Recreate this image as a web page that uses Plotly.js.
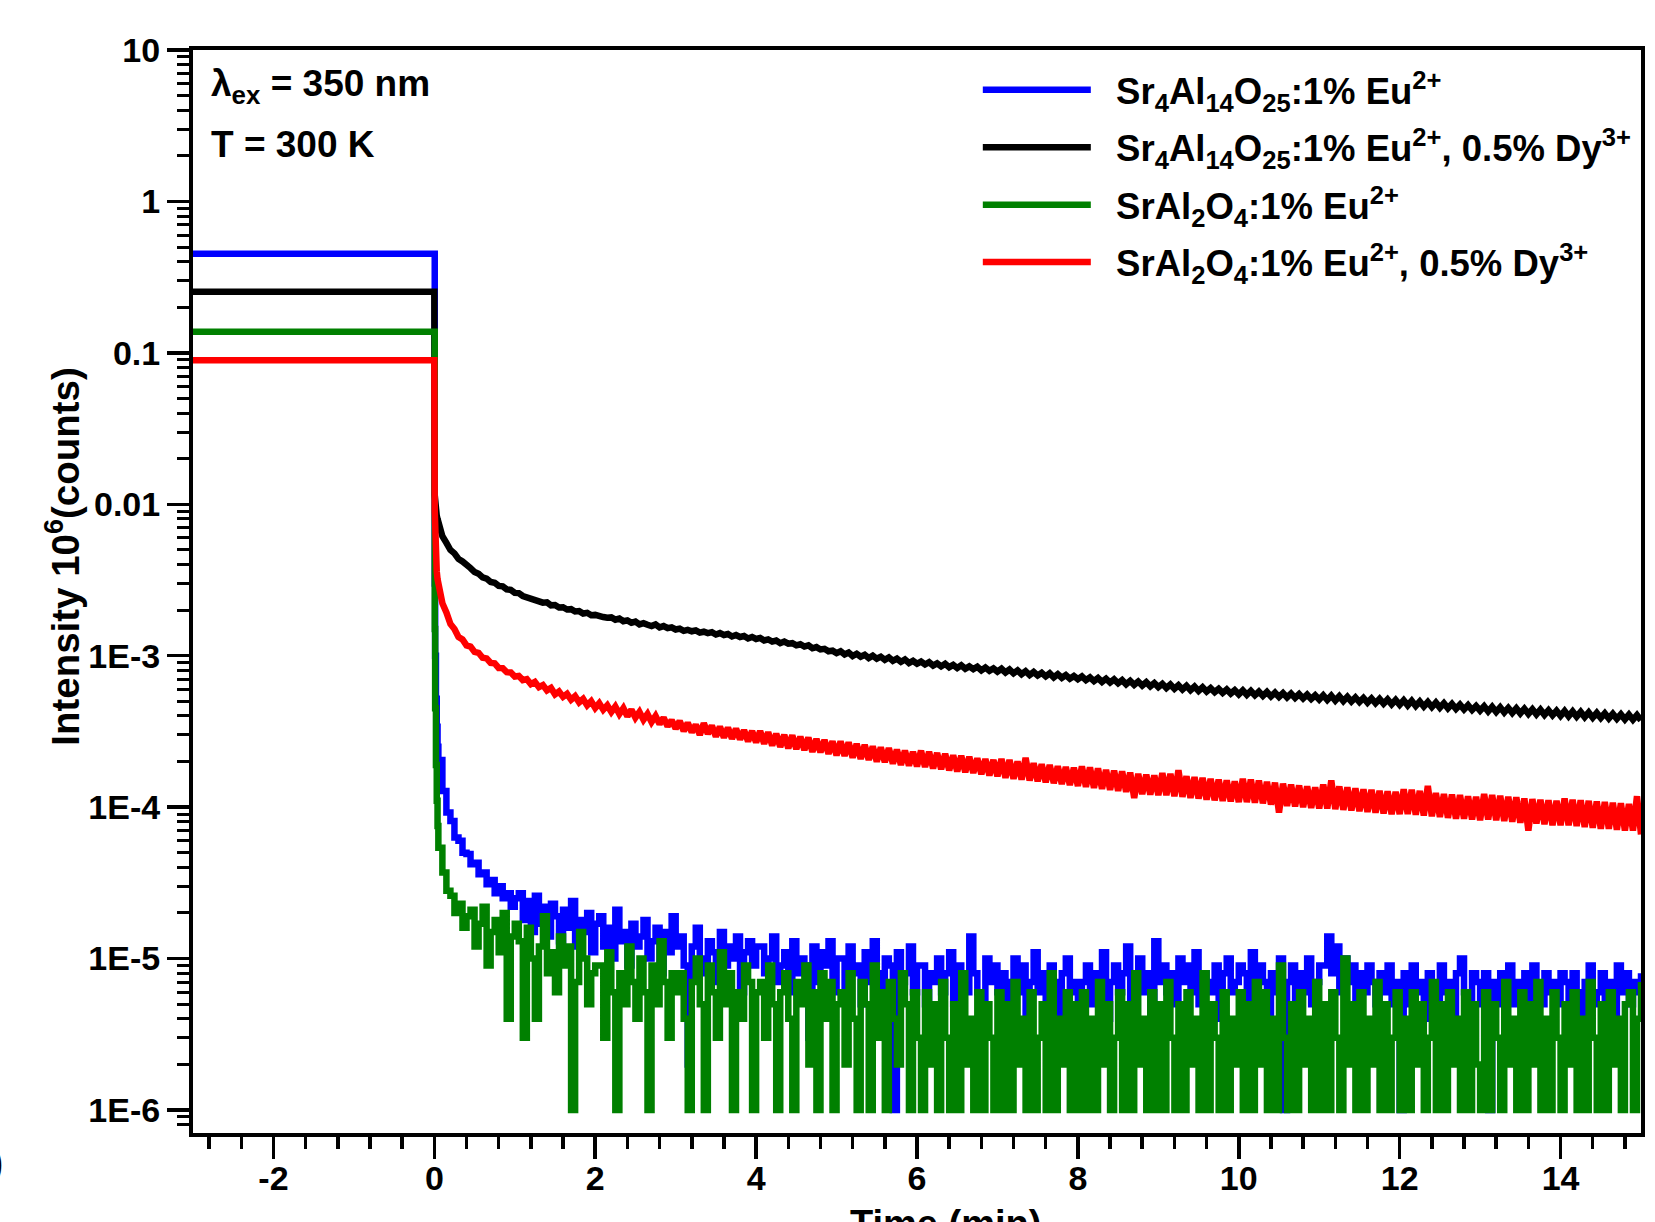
<!DOCTYPE html>
<html>
<head>
<meta charset="utf-8">
<script src="https://cdn.plot.ly/plotly-3.0.1.min.js"></script>
<style>
html,body{margin:0;padding:0;background:#ffffff;}
#chart{width:1655px;height:1222px;}
</style>
</head>
<body>
<div id="chart"></div>
<script>
// ---------------- DATA (intensity in counts; axis unit = 10^6 counts) ----------------
const SERIES_NAMES = [
  'Sr<sub>4</sub>Al<sub>14</sub>O<sub>25</sub>:1% Eu<sup>2+</sup>',
  'Sr<sub>4</sub>Al<sub>14</sub>O<sub>25</sub>:1% Eu<sup>2+</sup>, 0.5% Dy<sup>3+</sup>',
  'SrAl<sub>2</sub>O<sub>4</sub>:1% Eu<sup>2+</sup>',
  'SrAl<sub>2</sub>O<sub>4</sub>:1% Eu<sup>2+</sup>, 0.5% Dy<sup>3+</sup>'
];
const SERIES_COLORS = ['#0000ff', '#000000', '#008000', '#ff0000'];

// excitation period (lamp on) : time in min
const PLATEAU_T = [-3, 0];
// first instants after switching the lamp off (min)
const EARLY_T = [0.005, 0.01, 0.02, 0.03, 0.04];
// afterglow record: first sample time and sampling step (min)
const TAIL_START = 0.05;
const TAIL_STEP = 0.05;

const COUNTS_PER_UNIT = 1e6;

// --- Sr4Al14O25:1% Eu2+ (blue)
const BLUE_PLATEAU = 452000;
const BLUE_EARLY = [3000, 1000, 520, 340, 250];
const BLUE_TAIL = [
  205,128,92,81,63,60,50,49,42,43,36,37,31,33,27,30,25,27,22,25,
  27,18,24,15,26,17,22,14,23,19,13,21,16,24,12,18,15,20,11,17,
  19,12,16,10,21,13,15,9,17,12,14,18,10,13,16,8,15,11,19,12,
  14,9,2,12,16,10,8,13,11,7,15,9,12,10,14,6,11,13,9,12,
  12,8,10,14,7,9,11,6,13,8,10,9,3,12,7,11,9,13,6,10,
  10,6,12,8,9,5,11,7,13,8,6,10,9,1,11,7,8,12,6,9,
  9,5,8,7,10,6,8,11,5,9,7,6,14,8,6,4,10,7,9,6,
  8,5,7,10,6,9,4,7,11,6,8,5,9,7,3,8,10,6,7,5,
  7,9,5,8,6,11,4,7,9,6,8,12,5,7,10,6,8,4,13,7,
  9,6,8,5,10,7,9,6,11,5,8,7,6,9,4,8,10,6,7,9,
  8,5,11,6,9,7,4,8,6,10,1,7,9,5,8,6,10,5,7,9,
  9,14,8,12,6,10,7,9,5,8,6,9,7,5,8,6,9,5,7,1,
  8,5,9,6,7,4,8,6,5,9,6,7,4,8,10,6,5,8,7,5,
  8,1,7,5,8,6,9,5,7,6,8,4,9,6,5,8,6,7,5,8,
  7,5,8,6,4,7,9,5,6,8,5,7,4,9,6,8,5,7,6,8
];

// --- Sr4Al14O25:1% Eu2+, 0.5% Dy3+ (black)
const BLACK_PLATEAU = 253500;
const BLACK_EARLY = [11500, 10000, 9000, 8400, 8000];
const BLACK_TAIL = [
  7640,6150,5560,4990,4740,4360,4190,3920,3790,3570,3480,3290,3230,3070,3030,2890,2870,2740,2720,2600,
  2590,2480,2430,2420,2330,2310,2240,2250,2150,2160,2080,2090,2020,2030,1960,1970,1900,1920,1850,1860,
  1850,1800,1780,1790,1730,1760,1690,1710,1650,1680,1610,1640,1600,1570,1610,1540,1570,1520,1540,1490,
  1510,1460,1480,1450,1470,1420,1440,1410,1430,1380,1410,1370,1390,1340,1370,1330,1350,1300,1330,1290,
  1310,1260,1280,1240,1260,1210,1240,1200,1210,1170,1190,1150,1170,1120,1140,1100,1110,1070,1080,1040,
  1070,1020,1050,995,1030,985,1015,965,1000,955,985,940,975,925,955,910,945,895,925,885,
  915,875,905,860,890,850,885,840,870,830,865,820,850,815,845,800,835,795,825,785,
  820,775,810,765,800,755,790,745,780,740,770,730,765,720,755,715,745,705,735,700,
  730,690,720,680,712,672,705,665,698,658,690,648,682,642,675,635,668,628,660,620,
  652,612,645,605,638,598,632,592,625,585,618,580,610,575,604,568,598,562,592,556,
  590,552,585,548,580,543,576,538,570,534,566,530,562,526,557,522,553,518,548,514,
  548,510,544,506,540,502,535,498,530,494,526,490,522,486,518,482,514,478,510,474,
  508,470,504,466,498,462,494,458,490,454,486,450,480,446,475,442,471,438,466,434,
  463,428,459,425,456,422,452,419,449,416,446,413,443,410,440,407,436,404,433,401,
  431,398,428,396,425,393,422,390,419,388,416,385,413,383,410,380,408,378,405,375
];

// --- SrAl2O4:1% Eu2+ (green)
const GREEN_PLATEAU = 137700;
const GREEN_EARLY = [1500, 450, 190, 110, 75];
const GREEN_TAIL = [
  54,37,28,26,20,23,16,19,21,12,17,22,9,15,18,11,20,4,14,17,
  13,3,16,10,4,12,19,8,11,6,14,9,12,1,7,15,10,5,8,9,
  9,3,11,6,1,8,5,12,7,4,10,6,1,9,5,13,7,3,8,6,
  8,4,1,7,10,5,1,9,6,3,11,5,8,1,6,4,9,7,1,6,
  7,3,9,5,1,6,8,4,1,7,5,9,2,6,1,8,4,7,1,5,
  6,2,8,4,1,7,5,1,9,3,6,1,7,4,2,8,5,1,6,3,
  1,6,2,5,1,7,3,1,5,1,8,2,4,1,6,1,5,3,1,6,
  1,5,1,7,2,4,1,6,1,3,5,1,8,1,4,2,6,1,5,1,
  6,1,4,1,7,2,5,1,3,6,1,5,1,8,2,4,1,6,1,5,
  1,7,3,1,5,1,6,2,4,1,8,1,5,3,1,6,1,4,2,6,
  1,5,1,7,2,6,1,4,1,9,3,1,5,1,6,2,4,1,7,1,
  5,1,6,3,1,10,2,5,1,6,1,4,2,7,1,5,1,3,6,1,
  4,1,6,2,5,1,3,7,1,5,1,6,2,4,1,6,1,5,2,1,
  6,1,5,3,1,7,2,4,1,6,1,5,2,7,1,4,1,6,3,1,
  5,2,6,1,4,1,7,3,1,5,1,6,2,4,1,5,6,1,4,7
];

// --- SrAl2O4:1% Eu2+, 0.5% Dy3+ (red)
const RED_PLATEAU = 89400;
const RED_EARLY = [9000, 5600, 4300, 3600, 3200];
const RED_TAIL = [
  2930,2220,1930,1620,1500,1330,1280,1170,1150,1060,1045,970,960,895,890,830,828,778,775,728,
  735,690,700,650,672,620,640,590,612,556,580,535,560,512,540,492,518,470,500,452,
  485,440,470,425,462,412,450,398,440,390,425,378,412,365,400,354,390,342,375,330,
  370,318,360,312,350,300,358,305,345,292,340,288,335,283,330,280,322,272,318,268,
  318,262,312,255,305,250,300,245,298,242,292,238,288,232,282,230,278,225,272,220,
  272,218,268,212,262,208,258,205,252,200,248,198,245,194,240,190,236,188,232,186,
  236,184,232,180,228,178,225,175,220,172,218,170,215,168,210,165,208,162,205,160,
  208,156,205,154,200,152,212,150,195,148,192,146,190,144,186,142,184,140,182,138,
  186,136,183,134,180,132,176,130,174,128,172,126,169,115,166,122,164,121,162,120,
  168,120,166,118,175,117,160,115,158,114,156,112,154,111,152,110,150,109,148,108,
  154,108,152,107,150,106,147,104,145,92,143,102,141,101,139,100,137,99,135,98,
  141,98,150,97,137,96,135,95,133,94,131,93,130,92,128,91,127,90,126,90,
  131,90,130,89,128,88,138,87,124,86,122,85,121,84,120,84,118,83,117,82,
  122,83,120,82,119,81,117,80,116,79,114,70,113,78,112,77,111,76,110,76,
  114,76,112,75,111,74,110,73,109,72,108,72,107,71,106,70,105,70,118,66
];

// axis tick labels and titles
const Y_TICK_VALS = [1e-6, 1e-5, 1e-4, 1e-3, 0.01, 0.1, 1, 10];
const Y_TICK_TEXT = ['1E-6', '1E-5', '1E-4', '1E-3', '0.01', '0.1', '1', '10'];
const X_TICK_VALS = [-2, 0, 2, 4, 6, 8, 10, 12, 14];
const X_TICK_TEXT = ['-2', '0', '2', '4', '6', '8', '10', '12', '14'];
const X_TITLE = 'Time (min)';
const Y_TITLE = 'Intensity 10<sup>6</sup>(counts)';

// ---------------- BUILD ----------------
const tailTimes = BLUE_TAIL.map((_, i) => +(TAIL_START + i * TAIL_STEP).toFixed(3));
function series(plateau, early, tail) {
  const x = PLATEAU_T.concat(EARLY_T, tailTimes);
  const y = PLATEAU_T.map(() => plateau).concat(early, tail).map(c => c / COUNTS_PER_UNIT);
  return {x, y};
}
const DATA = [
  series(BLUE_PLATEAU, BLUE_EARLY, BLUE_TAIL),
  series(BLACK_PLATEAU, BLACK_EARLY, BLACK_TAIL),
  series(GREEN_PLATEAU, GREEN_EARLY, GREEN_TAIL),
  series(RED_PLATEAU, RED_EARLY, RED_TAIL)
];
// photon-counting traces (blue, green) are drawn as counting steps
const LINE_SHAPES = ['hv', 'linear', 'hv', 'linear'];

const FONT = 'Liberation Sans, Arial, Helvetica, sans-serif';
const GAP = '\u00a0\u00a0';
const traces = DATA.map((d, i) => ({
  type: 'scatter', mode: 'lines',
  x: d.x, y: d.y, name: GAP + SERIES_NAMES[i],
  legendgroup: 'g' + i,
  line: {color: SERIES_COLORS[i], width: 6.5, shape: LINE_SHAPES[i]},
  hoverinfo: 'skip'
}));

// minor tick positions on the log axis (2..9 in each decade)
const minorY = [];
for (let e = -7; e <= 0; e++) for (let m = 2; m <= 9; m++) minorY.push(m * Math.pow(10, e));

const layout = {
  width: 1655, height: 1222,
  margin: {l: 193, r: 14, t: 50, b: 89, pad: 0},
  paper_bgcolor: '#ffffff', plot_bgcolor: '#ffffff',
  showlegend: true,
  font: {family: FONT, size: 34, color: '#000', weight: 'bold'},
  xaxis: {
    range: [-3, 15], autorange: false, automargin: false,
    tickmode: 'array', tickvals: X_TICK_VALS, ticktext: X_TICK_TEXT,
    ticks: 'outside', ticklen: 22, tickwidth: 3.5, tickcolor: '#000',
    ticklabelstandoff: -10,
    minor: {ticks: 'outside', ticklen: 12, tickwidth: 3.5, tickcolor: '#000', dtick: 0.4, tick0: 0},
    showline: true, linewidth: 4, linecolor: '#000', mirror: true,
    showgrid: false, zeroline: false,
    tickfont: {family: FONT, size: 34, color: '#000', weight: 'bold'}
  },
  yaxis: {
    type: 'log', range: [-6.152, 1.0], autorange: false, automargin: false,
    tickmode: 'array', tickvals: Y_TICK_VALS, ticktext: Y_TICK_TEXT,
    ticks: 'outside', ticklen: 22, tickwidth: 3.5, tickcolor: '#000',
    minor: {ticks: 'outside', ticklen: 12, tickwidth: 3, tickcolor: '#000', tickmode: 'array', tickvals: minorY},
    showline: true, linewidth: 4, linecolor: '#000', mirror: true,
    showgrid: false, zeroline: false,
    tickfont: {family: FONT, size: 34, color: '#000', weight: 'bold'}
  },
  legend: {
    x: 0.542, y: 0.9912, xanchor: 'left', yanchor: 'top',
    bgcolor: 'rgba(0,0,0,0)', borderwidth: 0, itemwidth: 108,
    traceorder: 'grouped', tracegroupgap: 7,
    font: {family: FONT, size: 36.5, color: '#000', weight: 'bold'}
  },
  annotations: [
    {xref: 'paper', yref: 'paper', x: 0.520, y: -0.0632, xanchor: 'center', yanchor: 'top', showarrow: false,
     text: X_TITLE, font: {family: FONT, size: 38, color: '#000', weight: 'bold'}},
    {xref: 'paper', yref: 'paper', x: -0.0899, y: 0.5328, xanchor: 'center', yanchor: 'middle', showarrow: false,
     textangle: -90, text: Y_TITLE, font: {family: FONT, size: 38.5, color: '#000', weight: 'bold'}},
    {xref: 'paper', yref: 'paper', x: 0.011, y: 0.967, xanchor: 'left', yanchor: 'middle', showarrow: false,
     text: '\u03bb<sub>ex</sub> = 350 nm', font: {family: FONT, size: 37, color: '#000', weight: 'bold'}},
    {xref: 'paper', yref: 'paper', x: 0.011, y: 0.913, xanchor: 'left', yanchor: 'middle', showarrow: false,
     text: 'T = 300 K', font: {family: FONT, size: 37, color: '#000', weight: 'bold'}},
    {xref: 'paper', yref: 'paper', x: -0.1298, y: -0.027, xanchor: 'right', yanchor: 'middle', showarrow: false,
     text: '(b)', font: {family: FONT, size: 36, color: '#000', weight: 'bold'}}
  ],
  hovermode: false
};

Plotly.newPlot('chart', traces, layout, {displayModeBar: false, staticPlot: true});
</script>
</body>
</html>
